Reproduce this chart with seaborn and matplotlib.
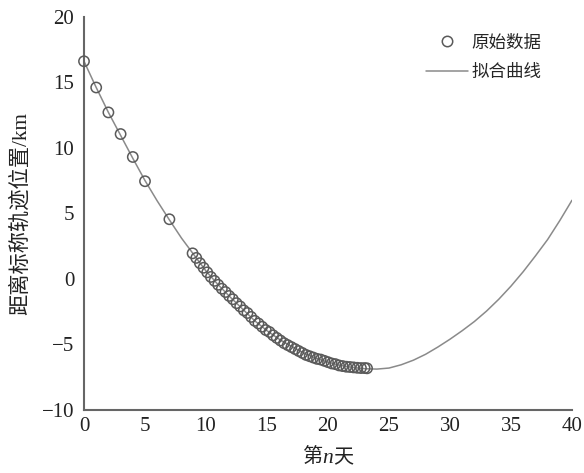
import matplotlib
matplotlib.use("Agg")
import matplotlib.pyplot as plt
import seaborn as sns
import pandas as pd
from matplotlib.lines import Line2D
from matplotlib.offsetbox import TextArea, HPacker, AnchoredOffsetbox

# ---- data ----
obs_x = [0, 1, 2, 3, 4, 5, 7,
         8.9, 9.2, 9.5, 9.8, 10.1, 10.4, 10.7, 11.0, 11.3, 11.6, 11.9, 12.2,
         12.5, 12.8, 13.1, 13.4, 13.7, 14.0, 14.3, 14.6, 14.9, 15.2, 15.5,
         15.8, 16.1, 16.4, 16.7, 17.0, 17.3, 17.6, 17.9, 18.2, 18.5, 18.8,
         19.1, 19.4, 19.7, 20.0, 20.3, 20.6, 20.9, 21.2, 21.5, 21.8, 22.1,
         22.4, 22.7, 23.0, 23.2]
obs_y = [16.6, 14.6, 12.7, 11.05, 9.3, 7.45, 4.55,
         1.95, 1.6, 1.2, 0.85, 0.5, 0.15, -0.15, -0.45, -0.75, -1.0, -1.3, -1.55,
         -1.85, -2.1, -2.4, -2.6, -2.9, -3.2, -3.4, -3.65, -3.9, -4.05, -4.3,
         -4.5, -4.7, -4.9, -5.05, -5.2, -5.35, -5.5, -5.65, -5.8, -5.9, -6.0,
         -6.1, -6.15, -6.25, -6.35, -6.45, -6.5, -6.6, -6.65, -6.7, -6.72, -6.75,
         -6.78, -6.8, -6.8, -6.82]

fit_x = list(range(0, 41))
fit_y = [16.6, 14.6, 12.7, 10.95, 9.2, 7.5, 5.95, 4.5, 3.1, 1.85,
         0.6, -0.45, -1.4, -2.3, -3.2, -3.95, -4.6, -5.15, -5.65, -6.05,
         -6.35, -6.6, -6.75, -6.85, -6.88, -6.8, -6.55, -6.2, -5.75, -5.2,
         -4.6, -3.95, -3.25, -2.45, -1.55, -0.55, 0.55, 1.75, 3.0, 4.45, 6.0]

x_ticks = [0, 5, 10, 15, 20, 25, 30, 35, 40]
y_ticks = [-10, -5, 0, 5, 10, 15, 20]
x_label_parts = ["第", "n", "天"]
y_label = "距离标称轨迹位置/km"
legend_labels = ["原始数据", "拟合曲线"]

# ---- style ----
sns.set_style("white")
plt.rcParams['font.family'] = ['Liberation Serif', 'Noto Sans CJK SC', 'DejaVu Sans']
plt.rcParams['axes.unicode_minus'] = True

TXT = "#222222"
fig = plt.figure(figsize=(5.84, 4.73), dpi=100)
ax = fig.add_axes([84/584, 1-410/473, (572-84)/584, (410-16.7)/473])

df_obs = pd.DataFrame({"x": obs_x, "y": obs_y})
df_fit = pd.DataFrame({"x": fit_x, "y": fit_y})

sns.lineplot(data=df_fit, x="x", y="y", ax=ax, color="#8a8a8a", lw=1.1,
             zorder=2, legend=False)
sns.scatterplot(data=df_obs, x="x", y="y", ax=ax, s=55, facecolor="none",
                edgecolor="#5a5a5a", linewidth=1.1, zorder=3, legend=False,
                clip_on=False)

ax.set_xlim(0, 40)
ax.set_ylim(-10, 20)
ax.set_xticks(x_ticks)
ax.set_yticks(y_ticks)
ax.set_xticklabels([str(t) for t in x_ticks])
ax.set_yticklabels([("\u2212" + str(-t)) if t < 0 else str(t) for t in y_ticks])

for s in ["top", "right"]:
    ax.spines[s].set_visible(False)
for s in ["left", "bottom"]:
    ax.spines[s].set_color("#666666")
    ax.spines[s].set_linewidth(1.5)

ax.tick_params(axis="both", direction="in", length=4, width=1.2,
               color="#666666", labelsize=15, labelcolor=TXT)
ax.tick_params(axis="x", pad=5)
ax.tick_params(axis="y", pad=7)
ax.set_xlabel("")
ax.set_ylabel(y_label, fontsize=15.3, color=TXT, labelpad=8)

# x label: 第 n(italic) 天
props_cjk = dict(fontsize=14.5, color=TXT)
parts = [
    TextArea(x_label_parts[0], textprops=props_cjk),
    TextArea(x_label_parts[1], textprops=dict(fontsize=15.5, color=TXT,
                                               style="italic",
                                               family="Liberation Serif")),
    TextArea(x_label_parts[2], textprops=props_cjk),
]
pack = HPacker(children=parts, align="baseline", pad=0, sep=0)
anch = AnchoredOffsetbox(loc="upper center", child=pack, frameon=False,
                         bbox_to_anchor=(0.5, -0.1),
                         bbox_transform=ax.transAxes, pad=0, borderpad=0)
ax.add_artist(anch)

handles = [
    Line2D([], [], marker="o", ls="none", markerfacecolor="none",
           markeredgecolor="#5a5a5a", markersize=7.5, markeredgewidth=1.1),
    Line2D([], [], color="#8a8a8a", lw=1.1),
]
ax.legend(handles, legend_labels, loc="upper right", frameon=False,
          fontsize=12.6, handlelength=2.4, handletextpad=0.2,
          borderaxespad=0.1, labelspacing=0.75, bbox_to_anchor=(0.955, 0.975))

fig.savefig("out.png", dpi=100)
